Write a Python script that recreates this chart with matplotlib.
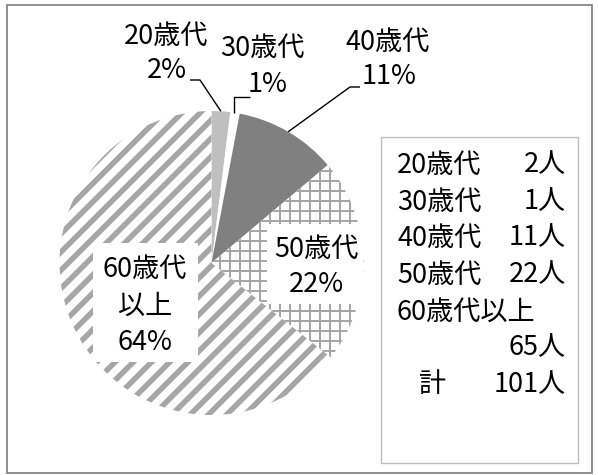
import matplotlib
matplotlib.use('Agg')
import matplotlib.pyplot as plt
import numpy as np
from matplotlib.collections import LineCollection
from matplotlib.patches import Rectangle

plt.rcParams['font.family'] = ['Noto Sans CJK JP', 'DejaVu Sans']

# ---- data ----
categories = ['20歳代', '30歳代', '40歳代', '50歳代', '60歳代以上']
counts = [2, 1, 11, 22, 65]
pct_labels = ['2%', '1%', '11%', '22%', '64%']
count_labels = ['2人', '1人', '11人', '22人', '65人']
total_name = '計'
total_label = '101人'

# ---- styles ----
face_colors = ['#bfbfbf', '#ffffff', '#808080', '#ffffff', '#ffffff']
hatch_color = '#a6a6a6'
FS = 19.5

W, H = 598, 475
fig = plt.figure(figsize=(W / 100, H / 100), dpi=100)
ax = fig.add_axes([0, 0, 1, 1])

CX, CY, R = 211.5, 263.0, 152.0
wedges, _ = ax.pie(counts, colors=face_colors, startangle=-90, counterclock=True,
                   center=(CX, CY), radius=R, wedgeprops=dict(linewidth=0, edgecolor='none'))
ax.set_xlim(0, W)
ax.set_ylim(H, 0)
ax.set_aspect('auto')
ax.axis('off')

px = 0.72  # points per pixel

# diagonal stripes for 60代以上
x0, x1 = CX - R - 10, CX + R + 10
y0, y1 = CY - R - 10, CY + R + 10
step = 12.9 * np.sqrt(2)
segs = []
for c in np.arange(-2 * R - 40, 2 * R + 40, step):
    segs.append([(x0, CY + c - (x0 - CX)), (x1, CY + c - (x1 - CX))])
lc = LineCollection(segs, colors=hatch_color, linewidths=5.5 * px)
ax.add_collection(lc)
lc.set_clip_path(wedges[4])

# crosshatch for 50代
segs2 = []
gstep = 10
for xv in np.arange(x0, x1, gstep):
    segs2.append([(xv, y0), (xv, y1)])
for yv in np.arange(y0, y1, gstep):
    segs2.append([(x0, yv), (x1, yv)])
lc2 = LineCollection(segs2, colors=hatch_color, linewidths=2 * px)
ax.add_collection(lc2)
lc2.set_clip_path(wedges[3])

# ---- outer labels with leader lines ----
fr = np.array(counts) / sum(counts)
cum = np.concatenate([[0], np.cumsum(fr)])
mid = (cum[:-1] + cum[1:]) / 2 * 2 * np.pi
ancx = CX + R * np.sin(mid)
ancy = CY - R * np.cos(mid)

lk = dict(color='black', lw=1.0, solid_capstyle='butt')
# 20代
ax.plot([ancx[0], 200, 190], [ancy[0], 80, 80], **lk)
ax.text(166, 36, categories[0], ha='center', va='center', fontsize=FS)
ax.text(167, 71, pct_labels[0], ha='center', va='center', fontsize=FS)
# 30代
ax.plot([ancx[1] - 1.5, ancx[1] - 1.5, 250], [ancy[1], 97, 97], **lk)
ax.text(262, 48, categories[1], ha='center', va='center', fontsize=FS)
ax.text(268, 85, pct_labels[1], ha='center', va='center', fontsize=FS)
# 40代
ax.plot([ancx[2], 350, 360], [ancy[2], 87, 87], **lk)
ax.text(388, 42, categories[2], ha='center', va='center', fontsize=FS)
ax.text(389, 76, pct_labels[2], ha='center', va='center', fontsize=FS)

# ---- inner labels with white boxes ----
ax.add_patch(Rectangle((267, 224), 96, 80, facecolor='white', edgecolor='none', zorder=3))
ax.text(316, 249, categories[3], ha='center', va='center', fontsize=FS, zorder=4)
ax.text(316, 285, pct_labels[3], ha='center', va='center', fontsize=FS, zorder=4)

ax.add_patch(Rectangle((93, 243), 105, 119, facecolor='white', edgecolor='none', zorder=3))
ax.text(145, 269, categories[4][:4], ha='center', va='center', fontsize=FS, zorder=4)
ax.text(145, 306, categories[4][4:], ha='center', va='center', fontsize=FS, zorder=4)
ax.text(145, 343, pct_labels[4], ha='center', va='center', fontsize=FS, zorder=4)

# ---- legend / summary box ----
ax.add_patch(Rectangle((381, 137), 197, 326, facecolor='white', edgecolor='#bfbfbf', lw=1.0, zorder=3))
rows_y = [165, 202, 238, 275]
for i in range(4):
    ax.text(397, rows_y[i], categories[i], ha='left', va='center', fontsize=FS, zorder=4)
    ax.text(566, rows_y[i], count_labels[i], ha='right', va='center', fontsize=FS, zorder=4)
ax.text(397, 312, categories[4], ha='left', va='center', fontsize=FS, zorder=4)
ax.text(566, 348, count_labels[4], ha='right', va='center', fontsize=FS, zorder=4)
ax.text(419, 385, total_name, ha='left', va='center', fontsize=FS, zorder=4)
ax.text(566, 385, total_label, ha='right', va='center', fontsize=FS, zorder=4)

# ---- outer frame ----
ax.add_patch(Rectangle((7, 5), 585, 468, facecolor='none', edgecolor='#868686', lw=1.3, zorder=5))

fig.savefig('out.png', dpi=100)
